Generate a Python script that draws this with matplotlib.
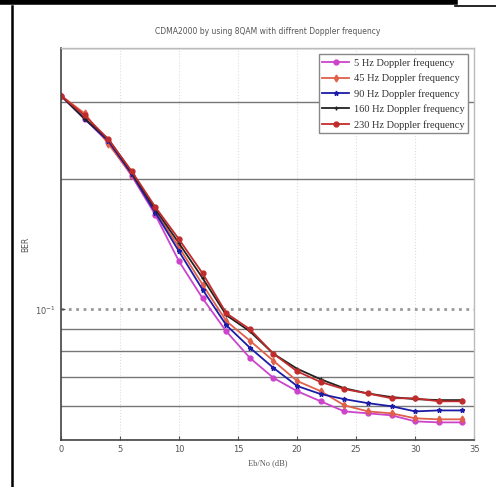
import matplotlib
matplotlib.use('Agg')
import matplotlib.pyplot as plt
from matplotlib.lines import Line2D

snr = [0, 2, 4, 6, 8, 10, 12, 14, 16, 18, 20, 22, 24, 26, 28, 30, 32, 34]

ber_5 = [0.311, 0.275, 0.243, 0.203, 0.165, 0.129, 0.106, 0.089, 0.0773, 0.0695,
         0.0648, 0.0614, 0.0582, 0.0576, 0.0570, 0.0552, 0.0549, 0.0549]
ber_45 = [0.311, 0.283, 0.241, 0.204, 0.168, 0.139, 0.114, 0.094, 0.0847, 0.0761,
          0.0684, 0.0648, 0.0601, 0.0582, 0.0576, 0.0561, 0.0558, 0.0558]
ber_90 = [0.311, 0.275, 0.2445, 0.205, 0.167, 0.136, 0.111, 0.092, 0.0816, 0.0733,
          0.0666, 0.0638, 0.0621, 0.0608, 0.0598, 0.0582, 0.0585, 0.0585]
ber_160 = [0.311, 0.275, 0.247, 0.207, 0.170, 0.142, 0.118, 0.097, 0.089, 0.079,
           0.073, 0.069, 0.0658, 0.064, 0.0628, 0.0621, 0.0618, 0.0618]
ber_230 = [0.311, 0.280, 0.247, 0.208, 0.172, 0.145, 0.121, 0.098, 0.090, 0.079,
           0.072, 0.068, 0.0655, 0.064, 0.0624, 0.0624, 0.0614, 0.0614]

labels = ['5 Hz Doppler frequency', '45 Hz Doppler frequency', '90 Hz Doppler frequency',
          '160 Hz Doppler frequency', '230 Hz Doppler frequency']
colors = ['#cc44cc', '#e0604a', '#1c1ca8', '#222222', '#c02c2c']
markers = ['o', 'd', '*', '+', 'o']

fig = plt.figure(figsize=(4.96, 4.87), dpi=100)
ax = fig.add_axes([0.123, 0.0965, 0.833, 0.8045])

for ys, lab, c, m in zip([ber_5, ber_45, ber_90, ber_160, ber_230], labels, colors, markers):
    ax.plot(snr, ys, color=c, marker=m, markersize=3.5, lw=1.3, label=lab)

ax.set_yscale('log')
ax.set_xlim(0, 35)
ax.set_ylim(0.05, 0.4)
ax.set_xticks([0, 5, 10, 15, 20, 25, 30, 35])
ax.yaxis.set_minor_formatter(plt.NullFormatter())
ax.tick_params(axis='both', which='both', direction='in', labelsize=6, colors='#555555', length=3)
ax.tick_params(axis='y', which='minor', length=0)

ax.grid(axis='y', which='minor', color='#777777', lw=1.0, ls='-')
ax.grid(axis='y', which='major', color='#999999', lw=2.0, ls=':')
ax.grid(axis='x', which='major', color='#dddddd', lw=0.8, ls=':')

for s in ['left', 'bottom']:
    ax.spines[s].set_color('#444444')
    ax.spines[s].set_linewidth(1.2)
for s in ['top', 'right']:
    ax.spines[s].set_color('#bbbbbb')
    ax.spines[s].set_linewidth(1.0)

ax.set_title('CDMA2000 by using 8QAM with diffrent Doppler frequency', fontsize=5.5,
             color='#555555', pad=10)
ax.set_xlabel('Eb/No (dB)', fontsize=6, color='#555555', family='Liberation Serif')
ax.set_ylabel('BER', fontsize=5.5, color='#555555')

leg = ax.legend(loc='upper right', prop={'family': 'Liberation Serif', 'size': 7.5},
                frameon=True, fancybox=False, edgecolor='#888888', framealpha=1,
                borderpad=0.35, labelspacing=0.55, handlelength=2.6, handletextpad=0.4,
                borderaxespad=0.6)
for t in leg.get_texts():
    t.set_color('#333333')

# scanned page border
fig.add_artist(Line2D([0, 0.917], [0.995, 0.995], color='black', lw=4, transform=fig.transFigure))
fig.add_artist(Line2D([0.917, 1.0], [0.988, 0.988], color='black', lw=1.2, transform=fig.transFigure))
fig.add_artist(Line2D([0.024, 0.024], [0, 0.988], color='black', lw=1.8, transform=fig.transFigure))

fig.savefig('out.png', dpi=100)
